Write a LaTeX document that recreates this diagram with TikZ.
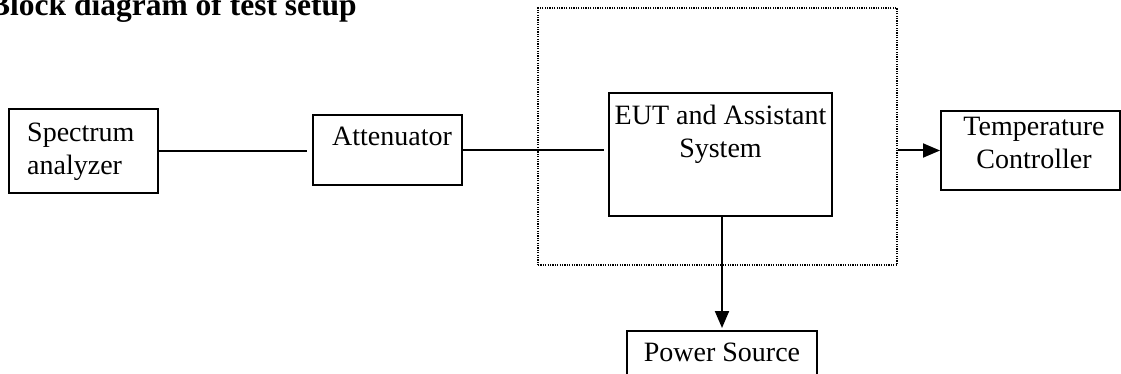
\documentclass[tikz,border=0pt]{standalone}
\usepackage{fontspec}
\setmainfont{Liberation Serif}
\usetikzlibrary{arrows.meta}

\begin{document}
\begin{tikzpicture}[x=1pt,y=1pt,yscale=-1,xscale=1,
  box/.style={draw, line width=2pt, inner sep=0pt, rectangle},
  chamberbox/.style={draw, line width=1.2pt, dash pattern=on 1.2pt off 1.2pt, inner sep=0pt, rectangle},
  lbl/.style={inner sep=0pt, font=\fontsize{28}{33}\selectfont},
  wire/.style={line width=2pt},
  feed/.style={line width=2pt, -{Triangle[length=17pt,width=14pt]}}]
\useasboundingbox (0,0) rectangle (1121,374);

% Title
\node [anchor=base west, inner sep=0pt, font=\fontsize{31.5}{36}\selectfont\bfseries] (title) at (-11,16) {Block diagram of test setup};

%Shape: Rectangle [dotted chamber]
\node [chamberbox, minimum width=359pt, minimum height=257pt] (chamber) at (717.5,136.5) {};
%Shape: Rectangles
\node [box, minimum width=149pt, minimum height=84pt] (spec) at (83.5,151) {};
\node [box, minimum width=149pt, minimum height=70pt] (att) at (387.5,150) {};
\node [box, minimum width=223pt, minimum height=123pt] (eut) at (720.5,154.5) {};
\node [box, minimum width=179pt, minimum height=79pt] (temp) at (1030.5,150.5) {};
\node [box, minimum width=190pt, minimum height=68pt] (pwr) at (722,365) {};

% Text Node
\node [lbl, anchor=north west, align=left] (spectxt) at ([xshift=19pt,yshift=15pt]spec.north west) {Spectrum\\analyzer};
% Text Node
\node [lbl, anchor=base] (atttxt) at ([xshift=4.5pt,yshift=32pt]att.north) {Attenuator};
% Text Node
\node [lbl, anchor=north, align=center] (euttxt) at ([yshift=13pt]eut.north) {EUT and Assistant\\System};
% Text Node
\node [lbl, anchor=north, align=center] (temptxt) at ([xshift=3.5pt,yshift=7pt]temp.north) {Temperature\\Controller};
% Text Node
\node [lbl, anchor=base] (pwrtxt) at ([yshift=31pt]pwr.north) {Power Source};

%Straight Lines
\draw [wire, shorten >=5pt] (spec.east) -- (spec.east -| att.west);
\draw [wire, shorten >=4pt] (att.east) -- (att.east -| eut.west);
\draw [feed, shorten >=2pt] (eut.south -| pwr.north) -- (pwr.north);
\draw [feed] (temp.west -| chamber.east) -- (temp.west);
\end{tikzpicture}
\end{document}
